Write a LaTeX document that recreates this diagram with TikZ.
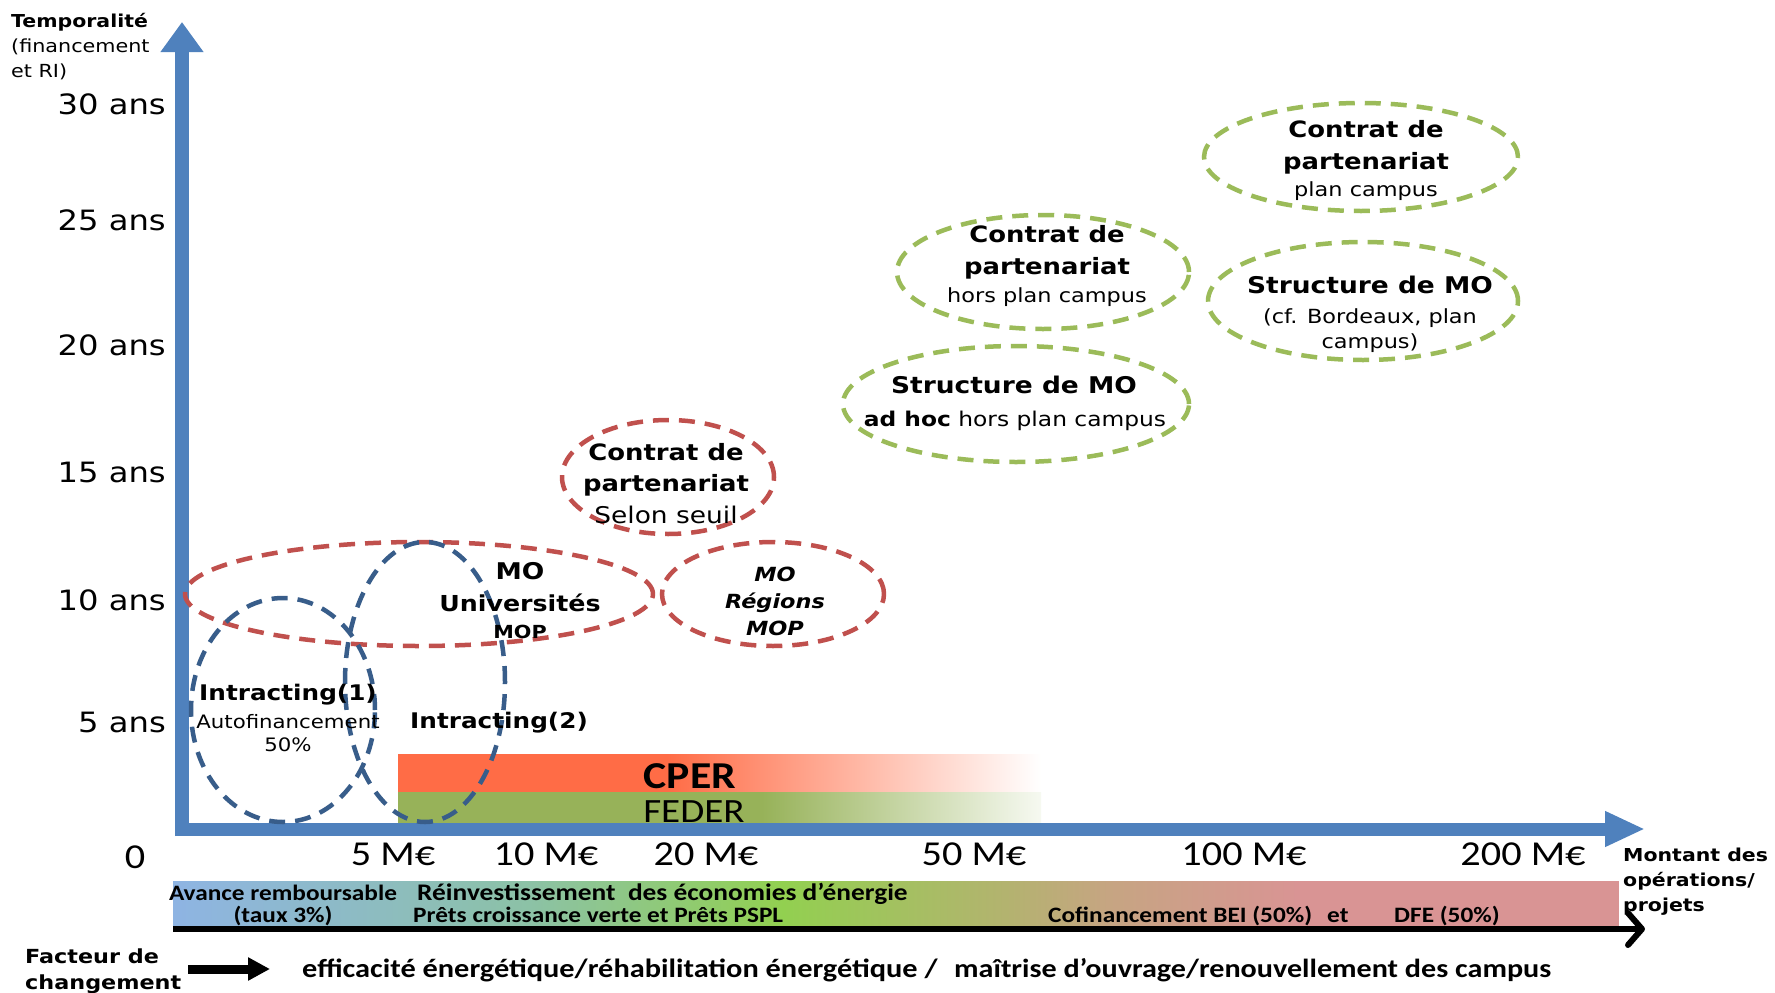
\documentclass[tikz,border=0pt]{standalone}
\usepackage{fontspec}
\usetikzlibrary{arrows.meta,shapes.geometric}
\newfontfamily\vf[FakeStretch=1.15]{DejaVu Sans}
\newfontfamily\cf[FakeStretch=1.15]{Carlito}
\newcommand\fsz[1]{\fontsize{#1}{#1}\selectfont}
\definecolor{axisblue}{RGB}{79,129,189}
\definecolor{dblue}{RGB}{56,93,138}
\definecolor{dred}{RGB}{192,80,77}
\definecolor{dgreen}{RGB}{155,187,89}
\definecolor{cper}{RGB}{255,108,70}
\definecolor{feder}{RGB}{151,178,89}
\definecolor{fedlight}{RGB}{246,249,241}
\definecolor{bA}{RGB}{142,180,227}
\definecolor{bB}{RGB}{140,194,165}
\definecolor{bC}{RGB}{146,208,80}
\definecolor{bD}{RGB}{180,178,112}
\definecolor{bE}{RGB}{198,165,130}
\definecolor{bF}{RGB}{217,148,148}
\begin{document}
\begin{tikzpicture}[x=1pt,y=-1pt,
  dell/.style={ellipse, draw, line width=4.5pt, dash pattern=on 16pt off 10pt, inner sep=0pt, outer sep=0pt},
  bluell/.style={dell, draw=dblue},
  redell/.style={dell, draw=dred},
  grell/.style={dell, draw=dgreen},
  lbl/.style={inner sep=0pt, anchor=mid, text=black, yshift=-6.5pt},
  ylab/.style={lbl, anchor=mid east, font=\vf\fsz{28}},
  xlab/.style={lbl, font=\cf\fsz{35}},
  hb/.style={lbl, font=\vf\bfseries\fsz{22.5}},
  hr/.style={lbl, font=\vf\fsz{19.5}},
  axtitle/.style={lbl, anchor=mid west, font=\vf\bfseries\fsz{17.8}},
  bandb/.style={lbl, font=\cf\bfseries\fsz{22}},
  ]
\useasboundingbox (0,0) rectangle (1775,993);
\fill[white] (0,0) rectangle (1775,993);

% CPER / FEDER bars
\fill[cper] (398,754) rectangle (668,792);
\shade[left color=cper, right color=white] (667,754) rectangle (1041,792);
\fill[feder] (398,792) rectangle (763,824);
\shade[left color=feder, right color=fedlight] (762,792) rectangle (1041,824);
\node[lbl, font=\cf\bfseries\fsz{38}] (cpertxt) at (690,780) {CPER};
\node[lbl, font=\cf\fsz{34}] (federtxt) at (694,814) {FEDER};

% axes
\draw[axisblue, line width=14pt, -{Triangle[length=30pt,width=41pt]}] (182,836) -- (182,22);
\draw[axisblue, line width=13pt, -{Triangle[length=40pt,width=33pt]}] (175,829) -- (1645,829);

% y labels
\node[axtitle] (tT1) at (11,19) {Temporalité};
\node[axtitle, font=\vf\fsz{18}] (tT2) at (11,44) {(financement};
\node[axtitle, font=\vf\fsz{18}] (tT3) at (11,69) {et RI)};
\node[ylab] (y30) at (166,106) {30 ans};
\node[ylab] (y25) at (166,222) {25 ans};
\node[ylab] (y20) at (166,347) {20 ans};
\node[ylab] (y15) at (166,474) {15 ans};
\node[ylab] (y10) at (166,602) {10 ans};
\node[ylab] (y5) at (166,724) {5 ans};

% x labels
\node[xlab] (x0) at (135,860) {0};
\node[xlab] (x5) at (393,857) {5 M€};
\node[xlab] (x10) at (546,857) {10 M€};
\node[xlab] (x20) at (706,857) {20 M€};
\node[xlab] (x50) at (974,857) {50 M€};
\node[xlab] (x100) at (1244,857) {100 M€};
\node[xlab] (x200) at (1523,857) {200 M€};
\node[axtitle] (m1) at (1623,853) {Montant des};
\node[axtitle] (m2) at (1623,878) {opérations/};
\node[axtitle] (m3) at (1623,903) {projets};

% bottom band
\shade[left color=bA, right color=bB] (173,881) rectangle (534,926);
\shade[left color=bB, right color=bC] (533,881) rectangle (783,926);
\shade[left color=bC, right color=bD] (782,881) rectangle (1012,926);
\shade[left color=bD, right color=bE] (1011,881) rectangle (1108,926);
\shade[left color=bE, right color=bF] (1107,881) rectangle (1299,926);
\fill[bF] (1298,881) rectangle (1619,926);
\coordinate (bandS) at (173,929);
\coordinate (bandE) at (1645,929);
\draw[black, line width=6pt, -{Straight Barb[length=14pt,width=32pt,line join=round,line cap=round]}] (bandS) -- (bandE);
\node[bandb] (av1) at (283,892) {Avance remboursable};
\node[bandb] (av2) at (283,914) {(taux 3\%)};
\node[bandb, anchor=mid west, font=\cf\bfseries\fsz{23.8}] (re1) at (417,892) {Réinvestissement\ \ des économies d’énergie};
\node[bandb, anchor=mid west] (re2) at (413,914) {Prêts croissance verte et Prêts PSPL};
\node[bandb, anchor=mid west] (co1) at (1048,914) {Cofinancement BEI (50\%)};
\node[bandb, anchor=mid west] (co2) at (1327,914) {et};
\node[bandb, anchor=mid west] (co3) at (1394,914) {DFE (50\%)};

% facteur de changement
\node[axtitle, font=\vf\bfseries\fsz{19.4}] (f1) at (25,955) {Facteur de};
\node[axtitle, font=\vf\bfseries\fsz{19.4}] (f2) at (25,981) {changement};
\coordinate (fa) at (188,969);
\coordinate (fb) at (270,969);
\draw[black, line width=9pt, -{Triangle[length=22pt,width=22pt]}] (fa) -- (fb);
\node[lbl, anchor=mid west, font=\cf\bfseries\fsz{26.4}] (ef1) at (302,969) {efficacité énergétique/réhabilitation énergétique /};
\node[lbl, anchor=mid west, font=\cf\bfseries\fsz{26.2}] (ef2) at (954,969) {maîtrise d’ouvrage/renouvellement des campus};

% red ellipses
\node[redell, minimum width=468pt, minimum height=104pt] (eUniv) at (419,594) {};
\node[redell, minimum width=212pt, minimum height=114pt] (eSeuil) at (668,477) {};
\node[redell, minimum width=222pt, minimum height=104pt] (eReg) at (773,594) {};
% blue ellipses
\node[bluell, minimum width=184pt, minimum height=224pt] (eI1) at (283,710) {};
\node[bluell, minimum width=160pt, minimum height=280pt] (eI2) at (425,682) {};
% green ellipses
\node[grell, minimum width=346pt, minimum height=116pt] (eAdhoc) at (1016,404) {};
\node[grell, minimum width=292pt, minimum height=114pt] (eHors) at (1043,272) {};
\node[grell, minimum width=314pt, minimum height=108pt] (eTop) at (1361,157) {};
\node[grell, minimum width=310pt, minimum height=118pt] (eStruct) at (1363,301) {};

% texts in ellipses
\node[hb, font=\vf\bfseries\fsz{21.5}] (i1a) at (288,692) {Intracting(1)};
\node[hr, font=\vf\fsz{18.5}] (i1b) at (288,720) {Autofinancement};
\node[hr, font=\vf\fsz{18.5}] (i1c) at (288,743) {50\%};
\node[hb, font=\vf\bfseries\fsz{21.5}] (i2a) at (499,720) {Intracting(2)};

\node[hb, font=\vf\bfseries\fsz{23}] (ua) at (520,571) {MO};
\node[hb, font=\vf\bfseries\fsz{22}] (ub) at (520,603) {Universités};
\node[hb, font=\vf\bfseries\fsz{18}] (uc) at (520,630) {MOP};

\node[hb, font=\vf\bfseries\itshape\fsz{19.5}] (ra) at (775,573) {MO};
\node[hb, font=\vf\bfseries\itshape\fsz{19.5}] (rb) at (775,600) {Régions};
\node[hb, font=\vf\bfseries\itshape\fsz{19.5}] (rc) at (775,627) {MOP};

\node[hb] (sa) at (666,452) {Contrat de};
\node[hb] (sb) at (666,483) {partenariat};
\node[hr, font=\vf\fsz{23}] (sc) at (666,515) {Selon seuil};

\node[hb] (ha) at (1047,234) {Contrat de};
\node[hb] (hbb) at (1047,266) {partenariat};
\node[hr] (hc) at (1047,294) {hors plan campus};

\node[hb] (pa) at (1366,129) {Contrat de};
\node[hb] (pb) at (1366,161) {partenariat};
\node[hr] (pc) at (1366,188) {plan campus};

\node[hb, font=\vf\bfseries\fsz{23}] (ba) at (1370,285) {Structure de MO};
\node[hr] (bb) at (1370,315) {(cf. Bordeaux, plan};
\node[hr] (bc) at (1370,340) {campus)};

\node[hb, font=\vf\bfseries\fsz{23}] (aa) at (1014,385) {Structure de MO};
\node[hr, font=\vf\fsz{20.3}] (ab) at (1015,418) {{\bfseries ad hoc} hors plan campus};
\end{tikzpicture}
\end{document}
